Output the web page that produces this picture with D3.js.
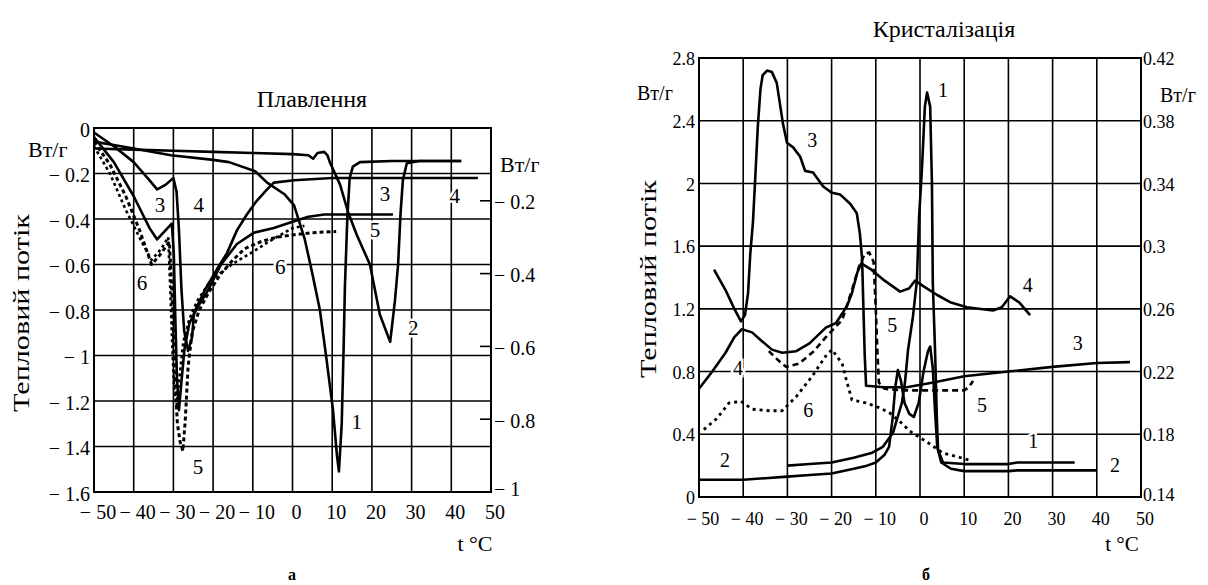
<!DOCTYPE html>
<html><head><meta charset="utf-8">
<script src="https://cdn.jsdelivr.net/npm/d3@7"></script>
<style>
body{margin:0;background:#fff}
svg text{font-family:"Liberation Serif","Times New Roman",Times,"Nimbus Roman","Nimbus Roman No9 L",Tinos,"FreeSerif","Noto Serif","DejaVu Serif",serif;fill:#000}
</style>
</head><body>
<svg id="c" width="1208" height="585"></svg>
<script>
// ---------- data ----------
const tempTicks = [-50,-40,-30,-20,-10,0,10,20,30,40,50];
const meltLeftTicks = [0,-0.2,-0.4,-0.6,-0.8,-1,-1.2,-1.4,-1.6];
const meltRightTicks = [-0.2,-0.4,-0.6,-0.8,-1];
const crystLeftTicks = [0,0.4,0.8,1.2,1.6,2,2.4,2.8];
const crystRightTicks = [0.14,0.18,0.22,0.26,0.3,0.34,0.38,0.42];

// Плавлення (t °C, Вт/г on left axis)
const melt1 = [[-50,-0.06],[-40,-0.09],[-30.6,-0.12],[-20,-0.14],[-16,-0.15],[-9.4,-0.19],[-6.4,-0.24],[-2.1,-0.29],[0.4,-0.34],[3.1,-0.49],[5,-0.64],[6.9,-0.8],[8.6,-1.02],[10.2,-1.24],[11.2,-1.44],[11.7,-1.51],[12.4,-1.3],[12.9,-0.95],[13.2,-0.7],[13.8,-0.4],[14.4,-0.22],[15.2,-0.17],[17,-0.15],[25,-0.145],[35,-0.145],[42.5,-0.145]];
const melt2 = [[-50,-0.09],[-40,-0.095],[-30,-0.1],[-20,-0.105],[-10,-0.11],[0,-0.115],[4,-0.12],[5.2,-0.135],[6.3,-0.11],[8,-0.105],[8.8,-0.12],[9.4,-0.15],[12,-0.25],[14,-0.37],[16.2,-0.47],[19.5,-0.6],[22,-0.82],[24.6,-0.94],[25.8,-0.76],[26.6,-0.6],[27.2,-0.38],[27.8,-0.23],[28.8,-0.155],[32,-0.145],[42.5,-0.145]];
const melt3 = [[-50,-0.02],[-45,-0.08],[-40,-0.15],[-36,-0.23],[-34.1,-0.27],[-32,-0.25],[-30,-0.22],[-29.2,-0.28],[-28.6,-0.45],[-28,-0.7],[-27.3,-0.89],[-26.3,-0.98],[-25.3,-0.92],[-24.8,-0.81],[-22,-0.71],[-19,-0.62],[-16.5,-0.55],[-14,-0.45],[-11.5,-0.38],[-9,-0.32],[-6.4,-0.27],[-4.7,-0.24],[0.4,-0.23],[10,-0.22],[30,-0.22],[46.7,-0.22]];
const melt4 = [[-50,-0.04],[-45,-0.15],[-40,-0.3],[-36,-0.44],[-34.1,-0.49],[-32,-0.45],[-30.4,-0.42],[-29.9,-0.55],[-29.5,-0.85],[-29.1,-1.1],[-28.6,-1.24],[-28,-1.12],[-27.2,-0.97],[-26,-0.86],[-24,-0.79],[-21.5,-0.72],[-18,-0.6],[-14,-0.51],[-9.7,-0.46],[-4.7,-0.44],[0.4,-0.41],[4,-0.39],[8,-0.38],[25.3,-0.38]];
const melt5 = [[-50,-0.06],[-46,-0.16],[-42,-0.3],[-38.5,-0.45],[-36.5,-0.55],[-35.5,-0.6],[-33.5,-0.56],[-31,-0.5],[-30.3,-0.75],[-29.7,-1.05],[-29,-1.3],[-28.3,-1.38],[-27.6,-1.42],[-27,-1.28],[-26.3,-1.05],[-25.3,-0.9],[-23.5,-0.8],[-21,-0.72],[-18,-0.64],[-15,-0.58],[-12,-0.53],[-8,-0.5],[-4,-0.48],[0,-0.47],[5,-0.46],[11,-0.455]];
const melt6 = [[-50,-0.08],[-46,-0.2],[-42,-0.36],[-38,-0.5],[-35.5,-0.58],[-33,-0.53],[-31.3,-0.48],[-30.8,-0.7],[-30.3,-0.95],[-29.8,-1.15],[-29.2,-1.22],[-28.5,-1.1],[-27.5,-0.94],[-26,-0.84],[-24,-0.76],[-21,-0.68],[-17,-0.62],[-13.5,-0.58],[-10.5,-0.55],[-6,-0.5],[-2,-0.46],[0,-0.44],[3,-0.43]];
const meltLabels = [["3",-33.4,-0.35],["4",-23.6,-0.35],["6",-37.9,-0.69],["6",-3.1,-0.62],["5",-23.8,-1.5],["3",23.3,-0.30],["4",40.9,-0.31],["5",20.8,-0.46],["2",30.4,-0.89],["1",16.2,-1.30]];

// Кристалізація (t °C, Вт/г on left axis)
const cryst1 = [[-30,0.2],[-25,0.21],[-20,0.22],[-15,0.25],[-11,0.28],[-8.4,0.32],[-6.1,0.41],[-4.1,0.6],[-3.4,0.73],[-2.7,0.94],[-1.6,1.15],[-0.7,1.38],[-0.2,1.79],[0.45,2.1],[1.1,2.49],[1.6,2.58],[2.3,2.49],[2.7,2.0],[2.9,1.36],[3.4,0.94],[3.8,0.51],[4.1,0.3],[5.2,0.22],[10,0.21],[20,0.21],[22,0.22],[35,0.22]];
const cryst2 = [[-50,0.11],[-40,0.11],[-35,0.12],[-30,0.13],[-25,0.14],[-20,0.15],[-15,0.18],[-12,0.2],[-10,0.22],[-8,0.27],[-7,0.32],[-6.2,0.5],[-5.6,0.7],[-5,0.81],[-4.3,0.74],[-3.5,0.6],[-2.4,0.53],[-1.4,0.51],[-0.3,0.6],[0.8,0.8],[1.8,0.93],[2.3,0.96],[2.9,0.82],[3.4,0.55],[3.9,0.32],[4.8,0.22],[7,0.18],[10,0.165],[20,0.165],[22,0.17],[40,0.17]];
const cryst3 = [[-46.6,1.45],[-44,1.32],[-42,1.2],[-40.5,1.12],[-39.6,1.16],[-38.9,1.3],[-38.4,1.55],[-37.8,1.75],[-37.3,2.02],[-36.7,2.36],[-36.1,2.6],[-35.6,2.69],[-34.6,2.72],[-33.5,2.71],[-32.4,2.64],[-31,2.38],[-30.1,2.26],[-28.7,2.23],[-27.1,2.17],[-26,2.08],[-24.2,2.07],[-21.9,1.98],[-19.9,1.94],[-18.1,1.93],[-15.8,1.87],[-14.3,1.81],[-13.6,1.68],[-13.1,1.52],[-12.8,1.2],[-12.5,0.9],[-12.2,0.71],[-8,0.7],[-3,0.7],[3,0.73],[10,0.77],[20,0.8],[30,0.83],[40,0.855],[47.5,0.86]];
const cryst4 = [[-50,0.69],[-47,0.8],[-44,0.92],[-42,1.02],[-40.3,1.07],[-38,1.05],[-36,1.0],[-33.5,0.94],[-31.2,0.92],[-28,0.93],[-25,0.98],[-21.3,1.08],[-19,1.11],[-17.6,1.17],[-16.5,1.22],[-15.4,1.3],[-14.2,1.43],[-13.3,1.49],[-11,1.45],[-8,1.38],[-4.5,1.31],[-2.5,1.33],[-1.1,1.38],[1,1.34],[3.8,1.29],[7,1.24],[10.6,1.21],[16.5,1.19],[18.5,1.21],[20.4,1.28],[22.5,1.24],[24.9,1.16]];
const cryst5 = [[-34.2,0.93],[-32,0.87],[-30.3,0.83],[-27.4,0.85],[-24,0.93],[-21.3,1.02],[-17.6,1.13],[-15.4,1.32],[-13.8,1.47],[-12.5,1.55],[-11.5,1.56],[-10.5,1.5],[-10,1.2],[-9.6,0.9],[-9.3,0.73],[-8,0.69],[-4,0.68],[0,0.68],[5,0.68],[10,0.68],[11,0.7],[12,0.74]];
const cryst6 = [[-48.9,0.43],[-46,0.5],[-43.2,0.6],[-40.5,0.61],[-38,0.56],[-34,0.55],[-31.2,0.55],[-28,0.64],[-24.4,0.77],[-21.3,0.9],[-19.9,0.94],[-17.6,0.85],[-16.7,0.75],[-15.4,0.62],[-12.2,0.6],[-9.3,0.57],[-7,0.54],[-4.5,0.48],[-2.3,0.42],[1.6,0.35],[5.2,0.28],[8,0.26],[11.8,0.23]];
const crystLabels = [["3",-24.4,2.26],["1",5.2,2.58],["4",24.4,1.34],["3",35.7,0.97],["5",14,0.57],["1",25.6,0.34],["2",44.1,0.19],["5",-6.3,1.08],["4",-41.2,0.81],["6",-25.3,0.54],["2",-44.1,0.22]];

// ---------- drawing ----------
const svg = d3.select("#c");
const fmtNeg = v => v === 0 ? "0" : (v < 0 ? "\u2212 " + Math.abs(v) : String(v));

function panel(o){
  const x = d3.scaleLinear().domain([-50,50]).range([o.x0,o.x1]);
  const yL = d3.scaleLinear().domain(o.yDom).range([o.y1,o.y0]);
  const yR = d3.scaleLinear().domain(o.yRDom).range([o.y1,o.y0]);
  const g = svg.append("g");
  g.selectAll(".vg").data(tempTicks).join("line")
    .attr("x1",d=>x(d)).attr("x2",d=>x(d)).attr("y1",o.y0).attr("y2",o.y1)
    .attr("stroke","#000").attr("stroke-width",1.6);
  g.selectAll(".hg").data(o.leftTicks).join("line")
    .attr("x1",o.x0).attr("x2",o.x1).attr("y1",d=>yL(d)).attr("y2",d=>yL(d))
    .attr("stroke","#000").attr("stroke-width",1.6);
  g.append("rect").attr("x",o.x0).attr("y",o.y0).attr("width",o.x1-o.x0).attr("height",o.y1-o.y0)
    .attr("fill","none").attr("stroke","#000").attr("stroke-width",2);
  g.selectAll(".lt").data(o.leftTicks).join("text")
    .attr("x",o.x0-4).attr("y",d=>yL(d)+o.tickDy).attr("text-anchor","end")
    .attr("dominant-baseline","middle").attr("font-size",o.fs).text(o.leftFmt);
  if(o.rightInnerTicks){
    g.selectAll(".rtk").data(o.rightTicks.filter(d=>d!==o.yRDom[0])).join("line")
      .attr("x1",o.x1-11).attr("x2",o.x1).attr("y1",d=>yR(d)).attr("y2",d=>yR(d))
      .attr("stroke","#000").attr("stroke-width",1.6);
  }
  g.selectAll(".rt").data(o.rightTicks).join("text")
    .attr("x",o.x1+o.rightDx).attr("y",d=>yR(d)+(d===o.yRDom[0]?o.bottomRDy:o.tickDy)).attr("text-anchor","start")
    .attr("dominant-baseline","middle").attr("font-size",o.fs).text(o.rightFmt);
  g.selectAll(".xt").data(tempTicks).join("text")
    .attr("x",d=>x(d)+4).attr("y",o.xLabY).attr("text-anchor","middle")
    .attr("dominant-baseline","middle").attr("font-size",o.fs).text(fmtNeg);
  const line = d3.line().x(d=>x(d[0])).y(d=>yL(d[1]));
  o.series.forEach(s=>{
    g.append("path").datum(s.data).attr("d",line).attr("fill","none")
      .attr("stroke","#000").attr("stroke-width",s.w||2.6)
      .attr("stroke-linejoin","round")
      .attr("stroke-dasharray",s.dash||null);
  });
  g.selectAll(".cl").data(o.labels).join("text")
    .attr("x",d=>x(d[1])).attr("y",d=>yL(d[2])).attr("text-anchor","middle")
    .attr("dominant-baseline","middle").attr("font-size",o.labFs)
    .attr("stroke","#fff").attr("stroke-width",5).attr("paint-order","stroke")
    .text(d=>d[0]);
  return g;
}

panel({x0:94,x1:491,y0:128,y1:492,yDom:[-1.6,0],yRDom:[-1,0],
  leftTicks:meltLeftTicks,rightTicks:meltRightTicks,rightInnerTicks:true,
  leftFmt:fmtNeg,rightFmt:fmtNeg,rightDx:3,tickDy:4,bottomRDy:-1,fs:20,labFs:21,xLabY:514,
  series:[{data:melt1},{data:melt2},{data:melt3},{data:melt4},
          {data:melt5,dash:"4,3",w:3},{data:melt6,dash:"3,3",w:2.6}],
  labels:meltLabels});

panel({x0:699,x1:1141,y0:58,y1:497,yDom:[0,2.8],yRDom:[0.14,0.42],
  leftTicks:crystLeftTicks,rightTicks:crystRightTicks,rightInnerTicks:false,
  leftFmt:d=>String(d),rightFmt:d=>String(d),rightDx:2,tickDy:3,bottomRDy:0,fs:18,labFs:20,xLabY:521,
  series:[{data:cryst1},{data:cryst2},{data:cryst3},{data:cryst4},
          {data:cryst5,dash:"6,4",w:2.6},{data:cryst6,dash:"3,4",w:2.8}],
  labels:crystLabels});

const T = (x,y,s,fs,extra)=>{const t=svg.append("text").attr("x",x).attr("y",y).attr("font-size",fs).text(s); if(extra) extra(t); return t;};
T(312,107,"Плавлення",24,t=>t.attr("text-anchor","middle"));
T(944,37,"Кристалізація",24,t=>t.attr("text-anchor","middle"));
T(28,157,"Вт/г",22);
T(500,172,"Вт/г",22);
T(637,100,"Вт/г",20);
T(1160,102,"Вт/г",20);
T(475,551,"t °C",22,t=>t.attr("text-anchor","middle"));
T(1122,551,"t °C",21,t=>t.attr("text-anchor","middle"));
svg.append("text").attr("transform","translate(29,313) rotate(-90)").attr("text-anchor","middle")
  .attr("font-size",24).attr("textLength",198).attr("lengthAdjust","spacingAndGlyphs").text("Тепловий потік");
svg.append("text").attr("transform","translate(656,279) rotate(-90)").attr("text-anchor","middle")
  .attr("font-size",23).attr("textLength",198).attr("lengthAdjust","spacingAndGlyphs").text("Тепловий потік");
T(292,580,"а",16,t=>t.attr("text-anchor","middle").attr("font-weight","bold"));
T(926,580,"б",16,t=>t.attr("text-anchor","middle").attr("font-weight","bold"));
</script>
</body></html>
